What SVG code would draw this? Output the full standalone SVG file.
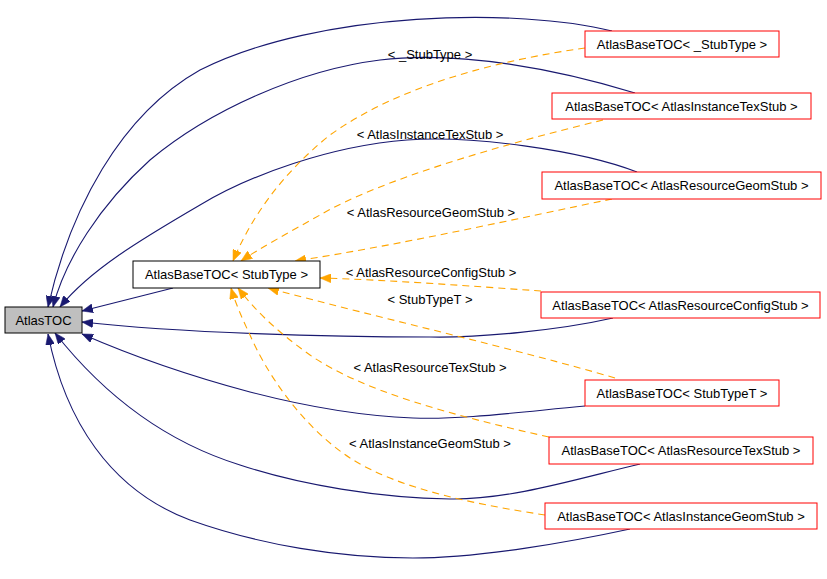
<svg xmlns="http://www.w3.org/2000/svg" width="827" height="579" viewBox="0 0 827 579">
<defs>
<style>
text{font-family:"Liberation Sans",Arial,sans-serif;font-size:13px;fill:#000;text-anchor:middle}
.n rect{fill:#fff;stroke:#ff0000;stroke-width:1}
.nav{fill:none;stroke:#191970;stroke-width:1.1;marker-end:url(#an)}
.org{fill:none;stroke:#ffa500;stroke-width:1.1;stroke-dasharray:7,5;marker-end:url(#ao)}
</style>
<marker id="an" markerUnits="userSpaceOnUse" markerWidth="12" markerHeight="9" refX="11" refY="4.5" orient="auto"><path d="M0,0 L11,4.5 L0,9 z" fill="#191970" stroke="#191970" stroke-width="0.5"/></marker>
<marker id="ao" markerUnits="userSpaceOnUse" markerWidth="12" markerHeight="9" refX="11" refY="4.5" orient="auto"><path d="M0,0 L11,4.5 L0,9 z" fill="#ffa500" stroke="#ffa500" stroke-width="0.5"/></marker>
</defs>
<rect width="827" height="579" fill="#fff"/>
<g id="edges">
<path class="nav" d="M612,31 C520,8 320,10 200,70 C120,115 70,210 48,307"/>
<path class="nav" d="M635,93 C560,70 460,50 380,60 C300,70 210,110 150,160 C100,205 65,260 53,307"/>
<path class="nav" d="M637,172 C580,150 470,135 407,140 C330,146 250,175 200,205 C140,240 90,270 60,307"/>
<path class="nav" d="M173,288 L82,311"/>
<path class="nav" d="M613,318 C560,330 480,338 430,337 C330,337 180,333 82,322"/>
<path class="nav" d="M585,406 C520,412 460,420 413,418 C360,416 300,405 250,392 C190,376 130,355 82,334"/>
<path class="nav" d="M640,464 C580,478 510,500 450,499 C380,498 300,485 240,465 C160,440 100,390 55,333"/>
<path class="nav" d="M630,529 C570,542 480,558 413,558 C340,558 260,545 190,520 C110,490 65,420 48,334"/>
<path class="org" d="M585,48 C500,60 400,85 330,135 C280,175 250,220 233,261"/>
<path class="org" d="M603,120 C500,145 380,180 320,215 C290,232 260,248 241,261"/>
<path class="org" d="M612,199 C520,218 400,245 295,261"/>
<path class="org" d="M541,291 C470,286 390,280 320,278"/>
<path class="org" d="M615,378 C520,350 380,318 268,288"/>
<path class="org" d="M549,437 C450,415 360,390 310,355 C275,330 255,310 238,288"/>
<path class="org" d="M545,515 C480,505 400,490 350,458 C300,425 265,370 250,335 C242,318 235,302 231,288"/>
<text x="430" y="59">&lt; _StubType &gt;</text>
<text x="430" y="139">&lt; AtlasInstanceTexStub &gt;</text>
<text x="431" y="217">&lt; AtlasResourceGeomStub &gt;</text>
<text x="431" y="277">&lt; AtlasResourceConfigStub &gt;</text>
<text x="430" y="304">&lt; StubTypeT &gt;</text>
<text x="430" y="372">&lt; AtlasResourceTexStub &gt;</text>
<text x="430" y="448">&lt; AtlasInstanceGeomStub &gt;</text>
</g>
<g id="AtlasTOC"><rect x="5" y="307" width="77" height="26" fill="#bfbfbf" stroke="#000"/><text x="43.5" y="324.5">AtlasTOC</text></g>
<g id="StubType"><rect x="133" y="261" width="187" height="27" fill="#fff" stroke="#000"/><text x="226.5" y="279">AtlasBaseTOC&lt; StubType &gt;</text></g>
<g id="n_StubType" class="n"><rect x="585" y="31" width="194" height="26"/><text x="682" y="48.5">AtlasBaseTOC&lt; _StubType &gt;</text></g>
<g id="nInstanceTexStub" class="n"><rect x="552" y="93" width="259" height="26"/><text x="681.5" y="110.5">AtlasBaseTOC&lt; AtlasInstanceTexStub &gt;</text></g>
<g id="nResourceGeomStub" class="n"><rect x="542" y="172" width="279" height="27"/><text x="681.5" y="190">AtlasBaseTOC&lt; AtlasResourceGeomStub &gt;</text></g>
<g id="nResourceConfigStub" class="n"><rect x="541" y="292" width="279" height="26"/><text x="680.5" y="309.5">AtlasBaseTOC&lt; AtlasResourceConfigStub &gt;</text></g>
<g id="nStubTypeT" class="n"><rect x="585" y="380" width="194" height="26"/><text x="682" y="397.5">AtlasBaseTOC&lt; StubTypeT &gt;</text></g>
<g id="nResourceTexStub" class="n"><rect x="549" y="437" width="264" height="27"/><text x="681" y="455">AtlasBaseTOC&lt; AtlasResourceTexStub &gt;</text></g>
<g id="nInstanceGeomStub" class="n"><rect x="545" y="503" width="272" height="26"/><text x="681" y="520.5">AtlasBaseTOC&lt; AtlasInstanceGeomStub &gt;</text></g>
</svg>
